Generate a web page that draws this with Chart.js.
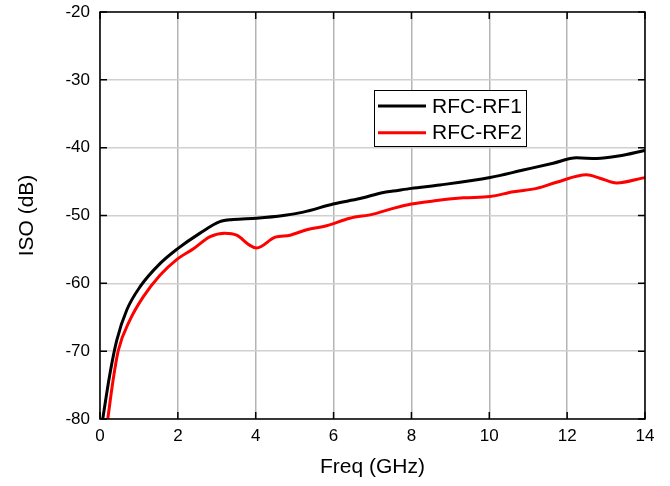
<!DOCTYPE html>
<html>
<head>
<meta charset="utf-8">
<script src="https://cdn.jsdelivr.net/npm/chart.js@4/dist/chart.umd.min.js"></script>
<style>
html,body{margin:0;padding:0;background:#fff;}
#wrap{width:670px;height:486px;position:relative;}
</style>
</head>
<body>
<div id="wrap"><canvas id="c" width="670" height="486"></canvas></div>
<script>
const xTicks = [0, 2, 4, 6, 8, 10, 12, 14];
const yTicks = [-80, -70, -60, -50, -40, -30, -20];

const rf1Freq = [0.07, 0.25, 0.43, 0.69, 1.03, 1.54, 1.97, 2.57, 3.08, 3.42, 4.02, 4.71, 5.22, 5.99, 6.68, 7.28, 7.53, 8.0, 8.73, 10.02, 10.87, 11.64, 12.24, 12.76, 13.36, 13.96, 14.0];
const rf1Iso  = [-80.0, -73.5, -68.4, -63.9, -60.5, -57.1, -55.0, -52.6, -50.9, -50.6, -50.4, -50.0, -49.5, -48.3, -47.5, -46.6, -46.4, -46.0, -45.5, -44.4, -43.3, -42.3, -41.5, -41.6, -41.2, -40.45, -40.4];

const rf2Freq = [0.2, 0.33, 0.47, 0.77, 1.11, 1.54, 1.97, 2.4, 2.83, 3.21, 3.51, 3.85, 4.02, 4.5, 4.88, 5.31, 5.82, 6.42, 7.02, 7.53, 8.0, 8.65, 9.33, 10.02, 10.62, 11.22, 11.73, 12.5, 12.84, 13.27, 13.96, 14.0];
const rf2Iso  = [-80.0, -74.5, -69.9, -65.4, -62.0, -58.8, -56.5, -54.9, -53.1, -52.6, -52.9, -54.4, -54.8, -53.2, -52.9, -52.1, -51.5, -50.4, -49.8, -48.95, -48.3, -47.8, -47.4, -47.2, -46.5, -46.0, -45.1, -44.0, -44.5, -45.2, -44.45, -44.4];

const seriesNames = ['RFC-RF1', 'RFC-RF2'];
const seriesColors = ['#000000', '#ff0000'];

function toPts(xs, ys){ return xs.map((x,i)=>({x:x, y:ys[i]})); }

const FONT = "'Liberation Sans', Arial, sans-serif";

const framePlugin = {
  id: 'frame',
  afterDatasetsDraw(chart){
    const {ctx, chartArea:a, scales} = chart;
    ctx.save();
    ctx.strokeStyle = '#000';
    ctx.lineWidth = 1.5;
    ctx.strokeRect(a.left, a.top, a.right - a.left, a.bottom - a.top);
    const L = 7;
    ctx.beginPath();
    xTicks.forEach(v => {
      const px = scales.x.getPixelForValue(v);
      ctx.moveTo(px, a.bottom); ctx.lineTo(px, a.bottom - L);
      ctx.moveTo(px, a.top); ctx.lineTo(px, a.top + L);
    });
    yTicks.forEach(v => {
      const py = scales.y.getPixelForValue(v);
      ctx.moveTo(a.left, py); ctx.lineTo(a.left + L, py);
      ctx.moveTo(a.right, py); ctx.lineTo(a.right - L, py);
    });
    ctx.stroke();

    // legend
    const bx = a.left + 274, by = a.top + 78, bw = 152, bh = 56;
    ctx.fillStyle = '#fff';
    ctx.fillRect(bx, by, bw, bh);
    ctx.strokeStyle = '#000';
    ctx.lineWidth = 1;
    ctx.strokeRect(bx + 0.5, by + 0.5, bw, bh);
    ctx.font = "21px " + FONT;
    ctx.textBaseline = 'middle';
    ctx.textAlign = 'left';
    chart.data.datasets.forEach((ds, i) => {
      const cy = by + 16 + i * 26.7;
      ctx.strokeStyle = ds.borderColor;
      ctx.lineWidth = 3;
      ctx.beginPath();
      ctx.moveTo(bx + 4, cy); ctx.lineTo(bx + 52, cy);
      ctx.stroke();
      ctx.fillStyle = '#000';
      ctx.fillText(ds.label, bx + 58, cy + 1);
    });
    ctx.restore();
  }
};

new Chart(document.getElementById('c'), {
  type: 'line',
  data: {
    datasets: [
      { label: seriesNames[0], data: toPts(rf1Freq, rf1Iso), borderColor: seriesColors[0], borderWidth: 3, pointRadius: 0, cubicInterpolationMode: 'monotone', fill: false },
      { label: seriesNames[1], data: toPts(rf2Freq, rf2Iso), borderColor: seriesColors[1], borderWidth: 3, pointRadius: 0, cubicInterpolationMode: 'monotone', fill: false }
    ]
  },
  options: {
    responsive: false,
    animation: false,
    layout: { padding: { left: 0, right: 25, top: 12, bottom: 0 } },
    plugins: { legend: { display: false }, tooltip: { enabled: false } },
    scales: {
      x: {
        type: 'linear', min: 0, max: 14,
        afterBuildTicks: s => { s.ticks = xTicks.map(v => ({value: v})); },
        afterFit: s => { s.height = 67; s.paddingLeft = 0; s.paddingRight = 0; },
        grid: { color: '#b4b4b4', lineWidth: 1.5, drawTicks: false },
        border: { display: false },
        ticks: { color: '#000', font: { family: FONT, size: 17 }, padding: 7, maxRotation: 0 },
        title: { display: true, text: 'Freq (GHz)', color: '#000', font: { family: FONT, size: 21 }, padding: { top: 0, bottom: 6 } }
      },
      y: {
        type: 'linear', min: -80, max: -20,
        afterBuildTicks: s => { s.ticks = yTicks.map(v => ({value: v})); },
        afterFit: s => { s.width = 100; s.paddingTop = 0; s.paddingBottom = 0; },
        grid: { color: '#d0d0d0', lineWidth: 1.5, drawTicks: false },
        border: { display: false },
        ticks: { color: '#000', font: { family: FONT, size: 17 }, padding: 10 },
        title: { display: true, text: 'ISO (dB)', color: '#000', font: { family: FONT, size: 21 }, padding: { top: 15, bottom: 0 } }
      }
    }
  },
  plugins: [framePlugin]
});
</script>
</body>
</html>
